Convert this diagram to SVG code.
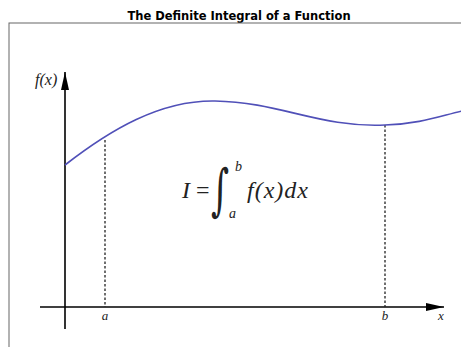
<svg xmlns="http://www.w3.org/2000/svg" width="461" height="347" viewBox="0 0 461 347">
<defs>
<marker id="ah" viewBox="0 0 18 8" refX="18" refY="4" markerWidth="18" markerHeight="8" markerUnits="userSpaceOnUse" orient="auto">
<path d="M0,0 L18,4 L0,8 Z" fill="#000"/>
</marker>
<style>
.title{font-family:"DejaVu Sans",sans-serif;font-weight:bold;font-size:11.5px;fill:#000}
.m{font-family:"Liberation Serif","DejaVu Serif",serif;font-style:italic;fill:#222}
.ax{stroke:#000;stroke-width:1.6;fill:none}
.dash{stroke:#222;stroke-width:1.3;stroke-dasharray:2.5,2;fill:none}
</style>
</defs>
<rect width="461" height="347" fill="#fff"/>
<text class="title" x="239" y="19.5" text-anchor="middle">The Definite Integral of a Function</text>
<rect x="9" y="23" width="470" height="340" fill="none" stroke="#666" stroke-width="1"/>
<g id="connectors">
<line class="ax" x1="40" y1="307" x2="444" y2="307" marker-end="url(#ah)"/>
<line class="ax" x1="65" y1="329" x2="65" y2="72" marker-end="url(#ah)"/>
<line class="dash" x1="105" y1="140" x2="105" y2="307"/>
<line class="dash" x1="385" y1="125" x2="385" y2="307"/>
</g>
<g id="curve">
<path d="M65,165 C110,130 160,100 215,101 C280,102 320,128 385,125 C420,124 440,116 462,111" fill="none" stroke="#5050b8" stroke-width="1.6"/>
</g>
<g id="labels">
<text class="m" x="35" y="85" font-size="16">f(x)</text>
<text class="m" x="105" y="320" font-size="13" text-anchor="middle">a</text>
<text class="m" x="385" y="320" font-size="13" text-anchor="middle">b</text>
<text class="m" x="441" y="320" font-size="13" text-anchor="middle">x</text>
</g>
<g id="formula">
<text class="m" x="182" y="198" font-size="24">I</text>
<text x="196" y="198" font-family="Liberation Serif,serif" font-size="24" fill="#222">=</text>
<text x="0" y="0" font-family="DejaVu Serif,serif" font-size="56" fill="#222" transform="translate(211,209) scale(0.62,1)">∫</text>
<text class="m" x="235" y="171" font-size="14">b</text>
<text class="m" x="229" y="218" font-size="14">a</text>
<text class="m" x="247" y="198" font-size="24" letter-spacing="1">f(x)dx</text>
</g>
</svg>
